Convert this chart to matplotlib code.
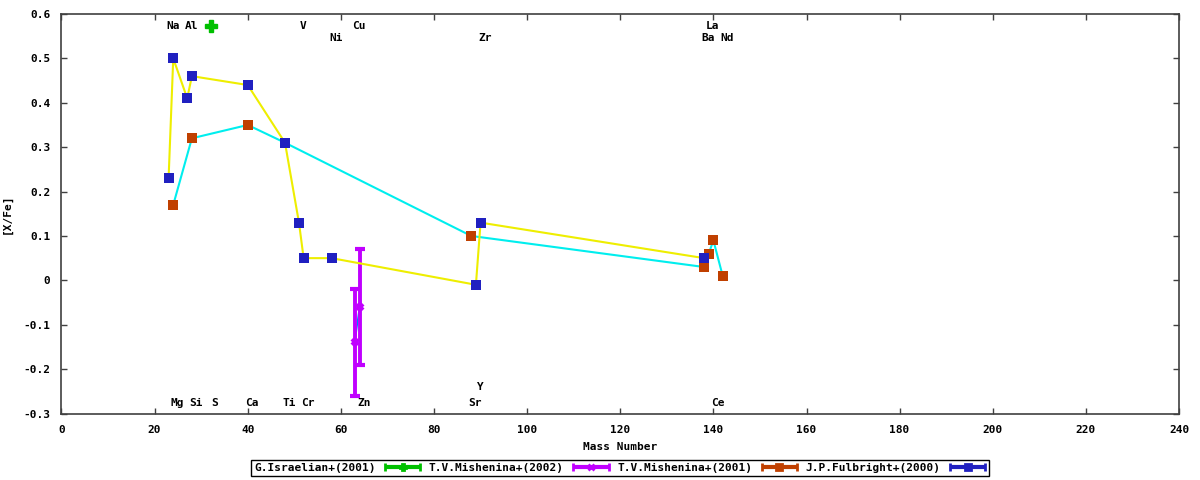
import numpy as np
import matplotlib
matplotlib.use("Agg")
import matplotlib.pyplot as plt
from matplotlib.container import ErrorbarContainer
from matplotlib.legend_handler import HandlerErrorbar

# data
isr_mass = [32]
isr_val = [0.574]

mish02_mass = [63, 64]
mish02_val = [-0.14, -0.06]
mish02_err = [0.12, 0.13]

mish01_mass = [24, 28, 40, 48, 88, 138, 139, 140, 142]
mish01_val = [0.17, 0.32, 0.35, 0.31, 0.10, 0.03, 0.06, 0.09, 0.01]

fulb_mass = [23, 24, 27, 28, 40, 48, 51, 52, 58, 89, 90, 138]
fulb_val = [0.23, 0.50, 0.41, 0.46, 0.44, 0.31, 0.13, 0.05, 0.05, -0.01, 0.13, 0.05]

elem_names = ["Na", "Al", "V", "Cu", "La", "Ni", "Zr", "Ba", "Nd",
              "Mg", "Si", "S", "Ca", "Ti", "Cr", "Zn", "Sr", "Ce", "Y"]
elem_mass = [23, 27, 51, 63, 139, 58, 90, 138, 142,
             24, 28, 32, 40, 48, 52, 64, 88, 140, 89]
elem_y = [0.574] * 5 + [0.547] * 4 + [-0.277] * 9 + [-0.241]

legend_labels = ["G.Israelian+(2001)", "T.V.Mishenina+(2002)",
                 "T.V.Mishenina+(2001)", "J.P.Fulbright+(2000)"]

# gnuplot-like colours
GREEN, LBLUE, MAGENTA = "#00c000", "#0080ff", "#c000ff"
CYAN, BROWN, YELLOW, BLUE = "#00eeee", "#c04000", "#eeee00", "#2020c0"
BORDER = "#404040"

plt.rcParams["font.family"] = ["DejaVu Sans Mono"]
plt.rcParams["font.weight"] = "bold"
plt.rcParams["font.size"] = 8

fig = plt.figure(figsize=(12, 4.8), dpi=100)
ax = fig.add_axes([61.5 / 1200, 1 - 413.5 / 480, (1179 - 61.5) / 1200, (413.5 - 14) / 480])

# plotting order follows gnuplot line types
ax.plot(isr_mass, isr_val, "P", color=GREEN, ms=9, mec=GREEN, zorder=2)
ax.plot(mish02_mass, mish02_val, "-", color=LBLUE, lw=1.2, zorder=2)
ax.errorbar(mish02_mass, mish02_val, yerr=mish02_err, fmt="x", color=MAGENTA,
            ms=5, mew=3, elinewidth=2.8, capsize=3.5, capthick=2.8, zorder=3)
ax.plot(mish01_mass, mish01_val, "-", color=CYAN, lw=1.5, zorder=4)
ax.plot(mish01_mass, mish01_val, "s", color=BROWN, ms=7, mew=0, zorder=5)
ax.plot(fulb_mass, fulb_val, "-", color=YELLOW, lw=1.5, zorder=6)
ax.plot(fulb_mass, fulb_val, "s", color=BLUE, ms=7, mew=0, zorder=7)

for name, m, y in zip(elem_names, elem_mass, elem_y):
    ax.annotate(name, (m, y), xytext=(3, 0), textcoords="offset points",
                ha="center", va="center", fontsize=8, fontweight="bold")

ax.set_xlim(0, 240)
ax.set_ylim(-0.3, 0.6)
ax.set_xticks(np.arange(0, 241, 20))
ax.set_yticks(np.arange(-0.3, 0.61, 0.1))
ax.set_yticklabels([("%g" % round(v, 1)) for v in np.arange(-0.3, 0.61, 0.1)])
ax.tick_params(direction="in", length=4, width=1, color=BORDER, top=True, right=True,
               labelsize=8, pad=8)
for s in ax.spines.values():
    s.set_color(BORDER)
    s.set_linewidth(1.2)

ax.set_xlabel("Mass Number", fontsize=8, fontweight="bold", labelpad=5)
ax.set_ylabel("[X/Fe]", fontsize=8, fontweight="bold")
ax.yaxis.set_label_coords(-(61.5 - 12) / 1117.5, 0.5)

# legend proxies: horizontal error bars like the gnuplot key
handles = []
for c, mk in [(GREEN, "P"), (MAGENTA, "x"), (BROWN, "s"), (BLUE, "s")]:
    h = ax.errorbar([np.nan], [np.nan], xerr=[1], fmt=mk, color=c, ms=5, mew=2,
                    elinewidth=3, capsize=3, capthick=3)
    handles.append(h)
leg = ax.legend(handles, legend_labels, loc="center", ncol=4, markerfirst=False,
                bbox_to_anchor=(620 / 1200, 12 / 480), bbox_transform=fig.transFigure,
                frameon=True, fancybox=False, edgecolor="black", framealpha=1,
                borderpad=0.25, handlelength=3.3, handletextpad=0.8, columnspacing=0.7,
                handler_map={ErrorbarContainer: HandlerErrorbar(xerr_size=1.6)},
                prop={"family": "DejaVu Sans Mono", "weight": "bold", "size": 8})
leg.get_frame().set_linewidth(1.0)

fig.savefig("out.png", dpi=100)
